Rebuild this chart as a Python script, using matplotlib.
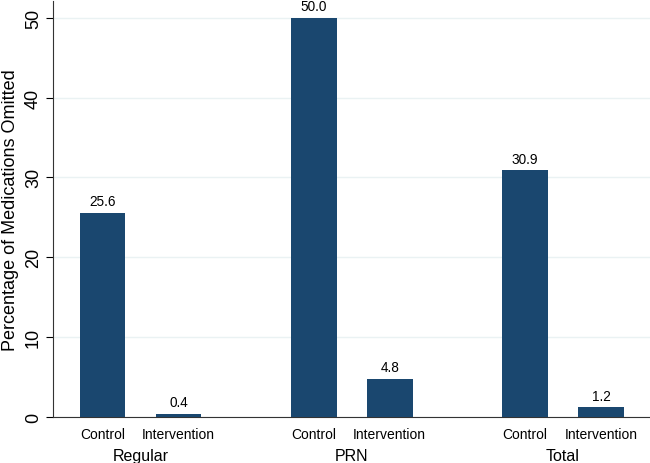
import matplotlib
matplotlib.use("Agg")
import matplotlib.pyplot as plt

plt.rcParams['font.family'] = ['Liberation Sans', 'DejaVu Sans']

groups = ['Regular', 'PRN', 'Total']
arms = ['Control', 'Intervention']
control = [25.6, 50.0, 30.9]
intervention = [0.4, 4.8, 1.2]

bar_color = '#1a476f'
group_step = 2.78

fig = plt.figure(figsize=(6.5, 4.64), dpi=100)
ax = fig.add_axes([0.0815, 0.099, 0.918, 0.897])

xs, vals, labs = [], [], []
for i, g in enumerate(groups):
    base = i * group_step
    xs += [base, base + 1]
    vals += [control[i], intervention[i]]
    labs += arms

bars = ax.bar(xs, vals, width=0.6, color=bar_color, zorder=3)
for x, v in zip(xs, vals):
    ax.annotate(f'{v:.1f}', (x, v), xytext=(0, 5.5), textcoords='offset points',
                ha='center', va='baseline', fontsize=9.8)

ax.set_xticks(xs)
ax.set_xticklabels(labs, fontsize=10)
ax.tick_params(axis='x', length=0, pad=7)
for i, g in enumerate(groups):
    ax.text(i * group_step + 0.5, -0.092, g, transform=ax.get_xaxis_transform(),
            ha='center', va='center', fontsize=11.5)

ax.set_ylim(0, 52.1)
ax.set_xlim(-0.65, 7.2)
ax.set_yticks([0, 10, 20, 30, 40, 50])
ax.tick_params(axis='y', length=5, width=0.8, labelsize=13, pad=3)
for t in ax.get_yticklabels():
    t.set_rotation(90)
    t.set_va('center')
ax.set_ylabel('Percentage of Medications Omitted', fontsize=13, labelpad=4)
ax.yaxis.grid(True, color='#eaf2f3', linewidth=1, zorder=0)

for s in ['top', 'right']:
    ax.spines[s].set_visible(False)
for s in ['left', 'bottom']:
    ax.spines[s].set_color('#333333')
    ax.spines[s].set_linewidth(0.8)

fig.savefig('out.png', dpi=100)
